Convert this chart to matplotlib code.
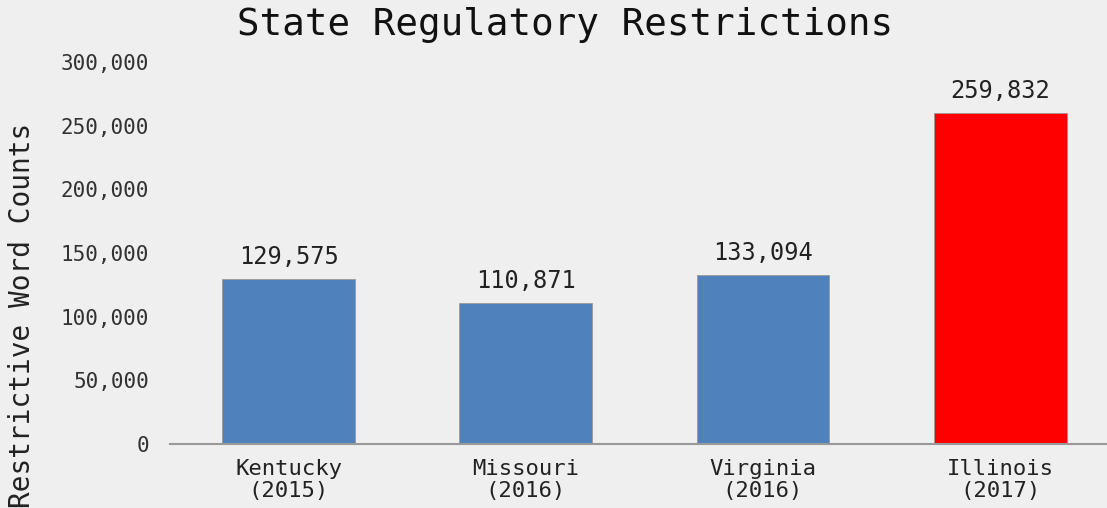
import matplotlib
matplotlib.use("Agg")
import matplotlib.pyplot as plt
import matplotlib.ticker as mticker

# Data
states = ["Kentucky\n(2015)", "Missouri\n(2016)", "Virginia\n(2016)", "Illinois\n(2017)"]
word_counts = [129575, 110871, 133094, 259832]
bar_colors = ["#4F81BD", "#4F81BD", "#4F81BD", "#FF0000"]
y_ticks = [0, 50000, 100000, 150000, 200000, 250000, 300000]

plt.rcParams["font.family"] = ["DejaVu Sans Mono"]

fig = plt.figure(figsize=(11.07, 5.08), dpi=100, facecolor="#efefef")
ax = fig.add_axes([0.1536, 0.126, 0.857, 0.752])
ax.set_facecolor("#efefef")

x = range(len(states))
bars = ax.bar(x, word_counts, width=0.56, color=bar_colors,
              edgecolor="#9a9a9a", linewidth=0.6, zorder=2)

ax.set_xlim(-0.5, 3.5)
ax.set_ylim(0, 300000)
ax.set_yticks(y_ticks)
ax.yaxis.set_major_formatter(mticker.FuncFormatter(lambda v, p: f"{int(v):,}"))
ax.set_xticks(list(x))
ax.set_xticklabels(states, fontsize=16, linespacing=1.1, color="#222222")
ax.tick_params(axis="y", length=0, pad=15, labelsize=15, labelcolor="#333333")
ax.tick_params(axis="x", length=0, pad=11)

for s in ["top", "right", "left"]:
    ax.spines[s].set_visible(False)
ax.spines["bottom"].set_color("#999999")
ax.spines["bottom"].set_linewidth(1.5)

# Value labels on top of bars
for rect, v in zip(bars, word_counts):
    ax.annotate(f"{v:,}", (rect.get_x() + rect.get_width() / 2, v),
                xytext=(0, 7), textcoords="offset points",
                ha="center", va="bottom", fontsize=17, color="#222222")

fig.text(0.51, 1 - 25 / 508, "State Regulatory Restrictions",
         ha="center", va="center", fontsize=27, color="#111111")
fig.text(22 / 1107, 1 - 315 / 508, "Restrictive Word Counts",
         rotation=90, ha="center", va="center", fontsize=20, color="#222222")

fig.savefig("out.png", dpi=100, facecolor=fig.get_facecolor())
